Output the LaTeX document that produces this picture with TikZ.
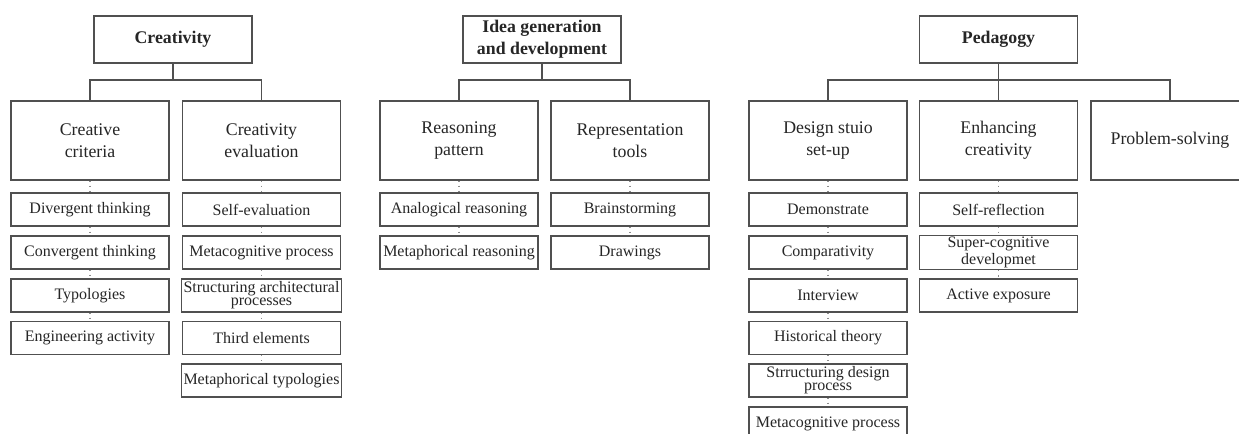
\documentclass[tikz,border=0pt]{standalone}
\usepackage{fontspec}
\setmainfont{Liberation Serif}
\usepackage{tikz}
\usetikzlibrary{positioning}
\definecolor{boxline}{HTML}{505050}
\definecolor{dotgray}{HTML}{8C8C8C}
\definecolor{inkgray}{HTML}{262626}
% rows (pixel units, y grows downwards)
\def\rowtop{39.5}
\def\rowmid{140.5}
\def\rowa{209.5}
\def\rowb{252.5}
\def\rowc{295.5}
\def\rowd{338}
\def\rowe{380.5}
\def\rowf{423.5}
\def\rowbar{80}

\tikzset{
  box/.style={draw=boxline, line width=0.6pt, text=inkgray, align=center,
    minimum width=79pt, inner sep=1pt},
  topbox/.style={box, minimum height=23.5pt, font=\fontsize{8.9}{10.8}\selectfont\bfseries},
  midbox/.style={box, minimum height=39.5pt, font=\fontsize{8.9}{10.8}\selectfont},
  leafbox/.style={box, minimum height=16.5pt, font=\fontsize{8}{6.6}\selectfont},
  treeline/.style={draw=boxline, line width=0.6pt},
  dotline/.style={draw=dotgray, line width=0.55pt, dotted}
}

\begin{document}
\begin{tikzpicture}[x=0.5pt, y=-0.5pt]
  \clip (0,0) rectangle (1239,434);
  \fill[white] (0,0) rectangle (1239,434);

  %% Creativity
  \node[topbox] (cr) at (173,\rowtop) {Creativity};
  \node[midbox] (cc) at (90,\rowmid) {Creative\\criteria};
  \node[midbox] (ce) at (261.5,\rowmid) {Creativity\\evaluation};
  \coordinate (barA) at (173,\rowbar);
  \draw[treeline] (cr) -- (barA);
  \draw[treeline] (cc.north) |- (barA) -| (ce.north);

  \node[leafbox] (dt) at (90,\rowa) {Divergent thinking};
  \node[leafbox] (ct) at (90,\rowb) {Convergent thinking};
  \node[leafbox] (ty) at (90,\rowc) {Typologies};
  \node[leafbox] (ea) at (90,\rowd) {Engineering activity};
  \draw[dotline] (cc) -- (dt);
  \draw[dotline] (dt) -- (ct);
  \draw[dotline] (ct) -- (ty);
  \draw[dotline] (ty) -- (ea);

  \node[leafbox] (se) at (261.5,\rowa) {Self-evaluation};
  \node[leafbox] (mp) at (261.5,\rowb) {Metacognitive process};
  \node[leafbox] (sa) at (261.5,\rowc) {Structuring architectural\\processes};
  \node[leafbox] (te) at (261.5,\rowd) {Third elements};
  \node[leafbox] (mt) at (261.5,\rowe) {Metaphorical typologies};
  \draw[dotline] (ce) -- (se);
  \draw[dotline] (se) -- (mp);
  \draw[dotline] (mp) -- (sa);
  \draw[dotline] (sa) -- (te);
  \draw[dotline] (te) -- (mt);

  %% Idea generation
  \node[topbox] (idea) at (542,\rowtop) {Idea generation\\and development};
  \node[midbox] (rp) at (459,\rowmid) {Reasoning\\pattern};
  \node[midbox] (rt) at (630,\rowmid) {Representation\\tools};
  \coordinate (barB) at (542,\rowbar);
  \draw[treeline] (idea) -- (barB);
  \draw[treeline] (rp.north) |- (barB) -| (rt.north);

  \node[leafbox] (ar) at (459,\rowa) {Analogical reasoning};
  \node[leafbox] (mr) at (459,\rowb) {Metaphorical reasoning};
  \draw[dotline] (rp) -- (ar);
  \draw[dotline] (ar) -- (mr);

  \node[leafbox] (bs) at (630,\rowa) {Brainstorming};
  \node[leafbox] (dr) at (630,\rowb) {Drawings};
  \draw[dotline] (rt) -- (bs);
  \draw[dotline] (bs) -- (dr);

  %% Pedagogy
  \node[topbox] (ped) at (998.5,\rowtop) {Pedagogy};
  \node[midbox] (ds) at (828,\rowmid) {Design stuio\\set-up};
  \node[midbox] (ec) at (998.5,\rowmid) {Enhancing\\creativity};
  \node[midbox] (ps) at (1170,\rowmid) {Problem-solving};
  \coordinate (barC) at (998.5,\rowbar);
  \draw[treeline] (ped) -- (ec);
  \draw[treeline] (ds.north) |- (barC) -| (ps.north);

  \node[leafbox] (dm) at (828,\rowa) {Demonstrate};
  \node[leafbox] (cp) at (828,\rowb) {Comparativity};
  \node[leafbox] (iv) at (828,\rowc) {Interview};
  \node[leafbox] (ht) at (828,\rowd) {Historical theory};
  \node[leafbox] (sd) at (828,\rowe) {Strructuring design\\process};
  \node[leafbox] (mc) at (828,\rowf) {Metacognitive process};
  \draw[dotline] (ds) -- (dm);
  \draw[dotline] (dm) -- (cp);
  \draw[dotline] (cp) -- (iv);
  \draw[dotline] (iv) -- (ht);
  \draw[dotline] (ht) -- (sd);
  \draw[dotline] (sd) -- (mc);

  \node[leafbox] (sr) at (998.5,\rowa) {Self-reflection};
  \node[leafbox] (sc) at (998.5,\rowb) {Super-cognitive\\developmet};
  \node[leafbox] (ax) at (998.5,\rowc) {Active exposure};
  \draw[dotline] (ec) -- (sr);
  \draw[dotline] (sr) -- (sc);
  \draw[dotline] (sc) -- (ax);
\end{tikzpicture}
\end{document}
